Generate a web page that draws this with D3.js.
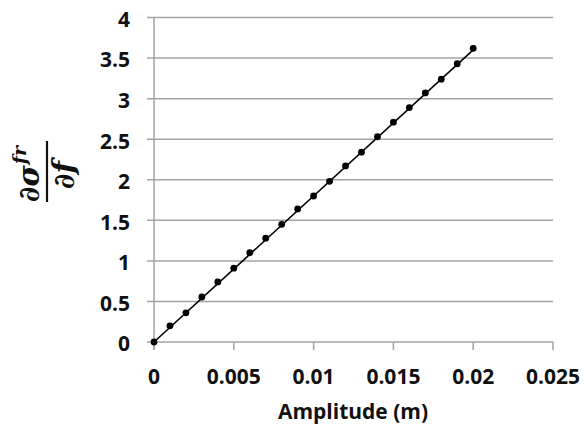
<!DOCTYPE html>
<html>
<head>
<meta charset="utf-8">
<script src="https://cdn.jsdelivr.net/npm/d3@7"></script>
<style>
  body { margin: 0; background: #fff; }
  svg text { font-family: "Open Sans", Lato, sans-serif; font-weight: bold; fill: #111; }
</style>
</head>
<body>
<div id="chart"></div>
<script>
const amplitude = [0, 0.001, 0.002, 0.003, 0.004, 0.005, 0.006, 0.007, 0.008, 0.009, 0.01,
  0.011, 0.012, 0.013, 0.014, 0.015, 0.016, 0.017, 0.018, 0.019, 0.02];
const derivative = [0, 0.20, 0.36, 0.555, 0.74, 0.91, 1.10, 1.28, 1.45, 1.64, 1.80,
  1.98, 2.17, 2.34, 2.53, 2.71, 2.89, 3.07, 3.24, 3.43, 3.62];
const trendX = [0, 0.02];
const trendY = [0, 3.6];
const xTicks = [0, 0.005, 0.01, 0.015, 0.02, 0.025];
const yTicks = [0, 0.5, 1, 1.5, 2, 2.5, 3, 3.5, 4];

const W = 585, H = 427;
const margin = { top: 17.5, right: 32, bottom: 85, left: 154 },
  width = W - margin.left - margin.right,
  height = H - margin.top - margin.bottom;

const svg = d3.select("#chart").append("svg")
  .attr("width", W).attr("height", H);

const g = svg.append("g")
  .attr("transform", `translate(${margin.left},${margin.top})`);

const x = d3.scaleLinear().domain([0, 0.025]).range([0, width]);
const y = d3.scaleLinear().domain([0, 4]).range([height, 0]);

const grid = "#a3a3a3";

// horizontal gridlines, extended left as tick marks
g.append("g").selectAll("line")
  .data(yTicks)
  .enter().append("line")
  .attr("x1", -7).attr("x2", width)
  .attr("y1", d => y(d)).attr("y2", d => y(d))
  .attr("stroke", grid).attr("stroke-width", 1.5);

// vertical axis line
g.append("line")
  .attr("x1", 0).attr("x2", 0)
  .attr("y1", 0).attr("y2", height + 8)
  .attr("stroke", grid).attr("stroke-width", 1.5);

// x tick marks
g.append("g").selectAll("line")
  .data(xTicks)
  .enter().append("line")
  .attr("x1", d => x(d)).attr("x2", d => x(d))
  .attr("y1", height).attr("y2", height + 8)
  .attr("stroke", grid).attr("stroke-width", 1.5);

// tick labels
g.append("g").selectAll("text")
  .data(yTicks)
  .enter().append("text")
  .attr("x", -24)
  .attr("y", d => y(d) + 2)
  .attr("dy", "0.35em")
  .attr("text-anchor", "end")
  .style("font-size", "21px")
  .text(d => d);

g.append("g").selectAll("text")
  .data(xTicks)
  .enter().append("text")
  .attr("x", d => x(d))
  .attr("y", height + 42)
  .attr("text-anchor", "middle")
  .style("font-size", "21px")
  .text(d => d);

// trend line
const line = d3.line().x(d => x(d[0])).y(d => y(d[1]));
g.append("path")
  .datum(d3.zip(trendX, trendY))
  .attr("d", line)
  .attr("fill", "none")
  .attr("stroke", "#000")
  .attr("stroke-width", 1.6);

// points
g.append("g").selectAll("circle")
  .data(d3.zip(amplitude, derivative))
  .enter().append("circle")
  .attr("cx", d => x(d[0]))
  .attr("cy", d => y(d[1]))
  .attr("r", 3.4)
  .attr("fill", "#000");

// x axis title
svg.append("text")
  .attr("x", 353)
  .attr("y", 419)
  .attr("text-anchor", "middle")
  .style("font-size", "21px")
  .text("Amplitude (m)");

// y axis title: fraction d sigma_fr / d f
const yl = svg.append("g")
  .attr("transform", "translate(47,171) rotate(-90)");
const serif = "'DejaVu Serif', 'Liberation Serif', serif";

const num = yl.append("text")
  .attr("x", -31).attr("y", -8)
  .style("font-family", serif)
  .style("font-style", "italic")
  .style("font-size", "29px");
num.append("tspan").text("∂σ");
num.append("tspan")
  .attr("dy", -13)
  .attr("dx", 1)
  .style("font-size", "19px")
  .text("fr");

yl.append("line")
  .attr("x1", -31).attr("x2", 30)
  .attr("y1", 0).attr("y2", 0)
  .attr("stroke", "#111").attr("stroke-width", 2.2);

yl.append("text")
  .attr("x", -4).attr("y", 27)
  .attr("text-anchor", "middle")
  .style("font-family", serif)
  .style("font-style", "italic")
  .style("font-size", "29px")
  .text("∂f");
</script>
</body>
</html>
